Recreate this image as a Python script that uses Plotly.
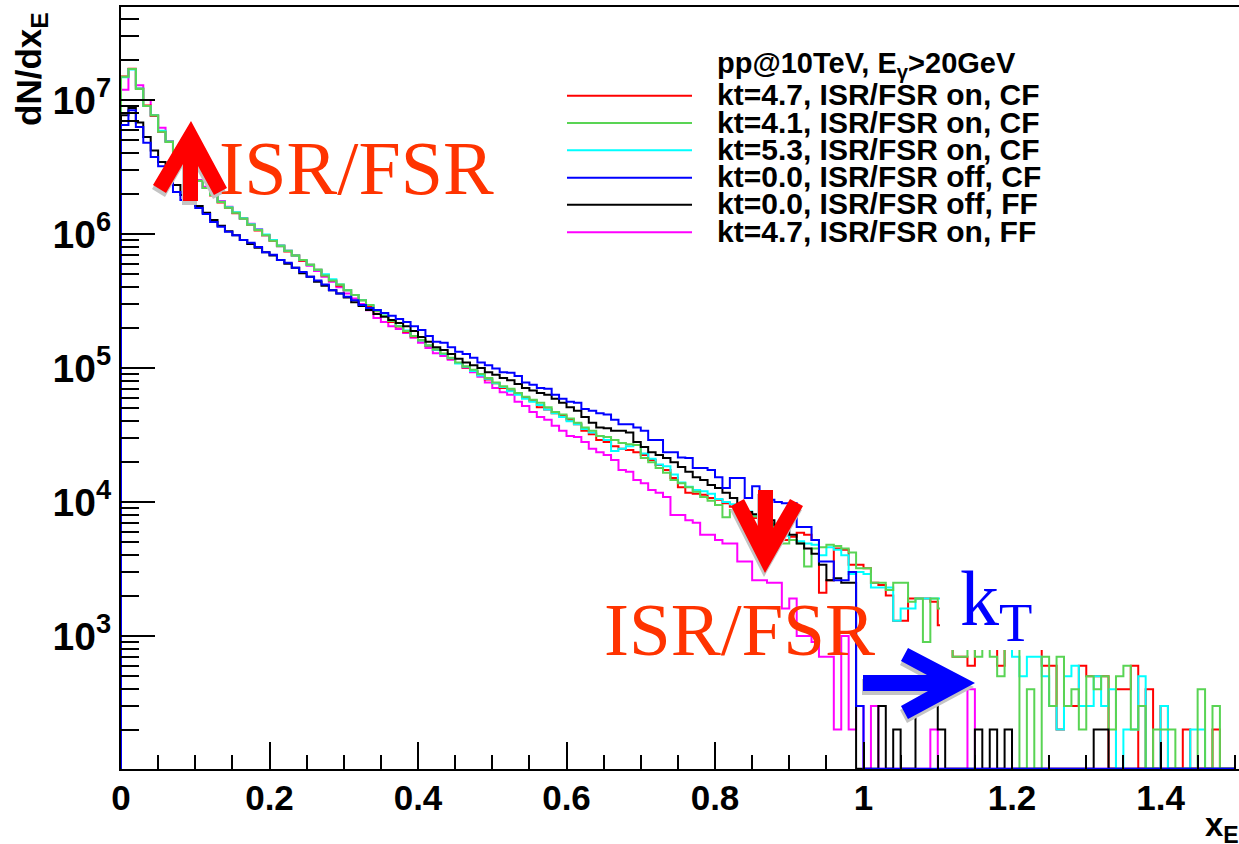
import numpy as np
import plotly.graph_objects as go

# ---------------- data (dN/dx_E per bin, bins of 0.01 from 0 to 1.5) ----------------
BIN_EDGES = np.round(np.linspace(0.0, 1.5, 151), 4)

kt47_on_cf = [
    1.50e7, 1.71e7, 1.22e7, 9.1e6, 7.6e6, 5.8e6, 4.9e6, 4.0e6, 3.4e6, 2.9e6,
    2.5e6, 2.2e6, 1.94e6, 1.72e6, 1.57e6, 1.43e6, 1.31e6, 1.17e6, 1.06e6, 9.8e5,
    8.9e5, 8.2e5, 7.4e5, 6.9e5, 6.3e5, 5.9e5, 5.4e5, 4.9e5, 4.5e5, 4.1e5,
    3.8e5, 3.5e5, 3.2e5, 2.9e5, 2.65e5, 2.44e5, 2.2e5, 2.04e5, 1.86e5, 1.72e5,
    1.6e5, 1.46e5, 1.36e5, 1.27e5, 1.17e5, 1.09e5, 1.01e5, 9.5e4, 8.9e4, 8.2e4,
    7.7e4, 7.1e4, 6.8e4, 6.4e4, 6.0e4, 5.7e4, 5.1e4, 4.9e4, 4.6e4, 4.4e4,
    4.1e4, 3.8e4, 3.4e4, 3.2e4, 2.9e4, 2.8e4, 2.6e4, 2.5e4, 2.44e4, 2.35e4,
    2.24e4, 2.06e4, 1.89e4, 1.73e4, 1.51e4, 1.29e4, 1.17e4, 1.15e4, 1.13e4, 1.07e4,
    1.04e4, 9.8e3, 9.2e3, 8.7e3, 8.0e3, 7.6e3, 7.0e3, 6.5e3, 6.0e3, 5.2e3,
    5.5e3, 5.9e3, 5.7e3, 5.2e3, 2.1e3, 2.6e3, 4.5e3, 4.4e3, 3.4e3, 3.4e3,
    3.2e3, 2.5e3, 2.4e3, 2.0e3, 1.3e3, 1.3e3, 1.9e3, 1.9e3, 1.9e3, 1.8e3,
    1.2e3, 800, 700, 700, 600, 900, 800, 1000, 600, 800,
    800, 800, 800, 800, 600, 600, 200, 300, 300, 600,
    500, 500, 500, 0, 400, 400, 600, 0, 400, 0,
    300, 0, 0, 200, 0, 0, 0, 200, 0, 0,
]

kt41_on_cf = [
    1.49e7, 1.70e7, 1.21e7, 9.0e6, 7.7e6, 5.8e6, 4.85e6, 4.0e6, 3.39e6, 2.9e6,
    2.49e6, 2.2e6, 1.95e6, 1.73e6, 1.57e6, 1.44e6, 1.30e6, 1.17e6, 1.07e6, 9.8e5,
    8.9e5, 8.1e5, 7.5e5, 6.9e5, 6.4e5, 5.9e5, 5.4e5, 4.9e5, 4.5e5, 4.2e5,
    3.8e5, 3.5e5, 3.2e5, 2.95e5, 2.66e5, 2.45e5, 2.24e5, 2.05e5, 1.89e5, 1.73e5,
    1.62e5, 1.48e5, 1.38e5, 1.28e5, 1.19e5, 1.10e5, 1.03e5, 9.7e4, 9.0e4, 8.4e4,
    7.8e4, 7.3e4, 7.0e4, 6.5e4, 6.1e4, 5.8e4, 5.5e4, 5.1e4, 4.7e4, 4.5e4,
    4.2e4, 3.9e4, 3.6e4, 3.4e4, 3.1e4, 3.05e4, 2.9e4, 2.75e4, 2.7e4, 2.66e4,
    2.13e4, 1.98e4, 1.79e4, 1.65e4, 1.46e4, 1.38e4, 1.29e4, 1.19e4, 1.09e4, 1.02e4,
    9.5e3, 7.7e3, 8.7e3, 8.6e3, 8.3e3, 7.8e3, 7.3e3, 6.9e3, 5.9e3, 4.9e3,
    5.2e3, 4.9e3, 3.3e3, 4.5e3, 4.6e3, 4.8e3, 4.7e3, 4.5e3, 4.2e3, 3.2e3,
    3.2e3, 2.5e3, 2.5e3, 2.2e3, 2.5e3, 2.5e3, 1.8e3, 1.9e3, 900, 1.9e3,
    1.6e3, 1000, 700, 700, 800, 700, 900, 700, 500, 900,
    800, 0, 400, 0, 700, 300, 700, 300, 400, 200,
    500, 400, 500, 200, 500, 600, 200, 300, 0, 200,
    200, 200, 0, 0, 0, 400, 0, 300, 0, 0,
]

kt53_on_cf = [
    1.48e7, 1.69e7, 1.22e7, 9.0e6, 7.7e6, 5.9e6, 4.9e6, 4.0e6, 3.4e6, 2.9e6,
    2.5e6, 2.2e6, 1.96e6, 1.74e6, 1.58e6, 1.45e6, 1.31e6, 1.18e6, 1.08e6, 9.9e5,
    9.0e5, 8.2e5, 7.5e5, 6.9e5, 6.4e5, 5.9e5, 5.4e5, 5.0e5, 4.6e5, 4.2e5,
    3.8e5, 3.5e5, 3.2e5, 2.95e5, 2.7e5, 2.46e5, 2.25e5, 2.06e5, 1.9e5, 1.73e5,
    1.6e5, 1.47e5, 1.37e5, 1.27e5, 1.18e5, 1.08e5, 1.02e5, 9.5e4, 8.8e4, 8.3e4,
    7.7e4, 7.2e4, 6.7e4, 6.3e4, 5.9e4, 5.6e4, 5.3e4, 4.9e4, 4.6e4, 4.3e4,
    4.0e4, 3.8e4, 3.5e4, 3.3e4, 3.1e4, 2.9e4, 2.4e4, 2.5e4, 2.6e4, 2.66e4,
    2.3e4, 2.1e4, 1.9e4, 1.85e4, 1.6e4, 1.4e4, 1.3e4, 1.23e4, 1.2e4, 1.15e4,
    1.05e4, 1.0e4, 9.6e3, 9.0e3, 8.5e3, 8.0e3, 7.4e3, 6.9e3, 6.5e3, 5.6e3,
    5.2e3, 5.1e3, 4.9e3, 4.8e3, 4.0e3, 4.6e3, 4.4e3, 4.0e3, 2.9e3, 3.0e3,
    2.9e3, 2.3e3, 2.3e3, 2.3e3, 1.3e3, 1.6e3, 1.6e3, 1.9e3, 1.9e3, 1.9e3,
    1.9e3, 1000, 900, 800, 900, 800, 800, 900, 800, 800,
    700, 500, 700, 700, 500, 300, 200, 500, 600, 300,
    300, 500, 300, 400, 0, 200, 200, 500, 0, 0,
    300, 0, 0, 0, 200, 200, 0, 0, 0, 0,
]

kt00_off_cf = [
    6.5e6, 8.4e6, 6.3e6, 4.8e6, 3.75e6, 3.2e6, 2.4e6, 2.06e6, 1.79e6, 1.7e6,
    1.56e6, 1.41e6, 1.23e6, 1.13e6, 1.04e6, 9.8e5, 9.0e5, 8.6e5, 8.0e5, 7.3e5,
    7.0e5, 6.4e5, 6.1e5, 5.6e5, 5.2e5, 4.8e5, 4.5e5, 4.2e5, 3.8e5, 3.6e5,
    3.4e5, 3.2e5, 2.95e5, 2.8e5, 2.71e5, 2.57e5, 2.45e5, 2.32e5, 2.2e5, 2.05e5,
    1.92e5, 1.73e5, 1.57e5, 1.54e5, 1.43e5, 1.32e5, 1.27e5, 1.19e5, 1.1e5, 1.05e5,
    9.9e4, 9.3e4, 9.2e4, 8.7e4, 7.8e4, 7.5e4, 7.1e4, 7.0e4, 6.3e4, 5.9e4,
    5.6e4, 5.5e4, 4.95e4, 4.8e4, 4.6e4, 4.5e4, 4.1e4, 3.8e4, 3.8e4, 3.6e4,
    3.4e4, 2.9e4, 2.9e4, 2.35e4, 2.35e4, 2.15e4, 2.13e4, 1.79e4, 1.79e4, 1.73e4,
    1.53e4, 1.27e4, 1.51e4, 1.51e4, 1.07e4, 1.31e4, 1.04e4, 1.04e4, 1.0e4, 9.8e3,
    9.8e3, 6.5e3, 6.5e3, 5.2e3, 3.6e3, 3.6e3, 2.6e3, 2.6e3, 3.0e3, 300,
    0, 0, 0, 0, 0, 0, 0, 0, 0, 0,
    0, 0, 0, 0, 0, 0, 0, 0, 0, 0,
    0, 0, 0, 0, 0, 0, 0, 0, 0, 0,
    0, 0, 0, 0, 0, 0, 0, 0, 0, 0,
    0, 0, 0, 0, 0, 0, 0, 0, 0, 0,
]

kt00_off_ff = [
    7.7e6, 8.7e6, 6.8e6, 5.3e6, 4.2e6, 3.45e6, 2.9e6, 2.32e6, 1.95e6, 1.76e6,
    1.62e6, 1.44e6, 1.27e6, 1.15e6, 1.05e6, 9.8e5, 9.0e5, 8.4e5, 7.9e5, 7.3e5,
    6.9e5, 6.4e5, 6.0e5, 5.6e5, 5.1e5, 4.8e5, 4.4e5, 4.1e5, 3.8e5, 3.6e5,
    3.35e5, 3.1e5, 2.9e5, 2.71e5, 2.53e5, 2.41e5, 2.28e5, 2.17e5, 2.05e5, 1.89e5,
    1.7e5, 1.57e5, 1.43e5, 1.36e5, 1.27e5, 1.17e5, 1.1e5, 1.05e5, 1.0e5, 9.3e4,
    8.9e4, 8.4e4, 8.1e4, 7.6e4, 7.1e4, 6.8e4, 6.5e4, 6.3e4, 5.9e4, 5.5e4,
    5.1e4, 4.8e4, 4.3e4, 3.9e4, 3.6e4, 3.55e4, 3.4e4, 3.4e4, 3.3e4, 2.8e4,
    2.57e4, 2.35e4, 2.24e4, 2.13e4, 1.98e4, 1.82e4, 1.68e4, 1.53e4, 1.46e4, 1.34e4,
    1.27e4, 1.17e4, 1.07e4, 9.5e3, 8.4e3, 8.1e3, 7.7e3, 7.3e3, 6.7e3, 6.5e3,
    5.7e3, 4.9e3, 4.5e3, 4.1e3, 3.4e3, 2.6e3, 2.7e3, 2.5e3, 2.5e3, 0,
    0, 0, 300, 0, 200, 0, 0, 300, 300, 300,
    200, 0, 0, 0, 0, 200, 0, 200, 0, 200,
    0, 0, 0, 0, 0, 0, 0, 0, 0, 0,
    0, 200, 200, 0, 0, 0, 0, 0, 0, 0,
    0, 0, 0, 0, 0, 0, 0, 0, 0, 0,
]

kt47_on_ff = [
    1.19e7, 1.70e7, 1.29e7, 1.0e7, 7.7e6, 6.2e6, 4.9e6, 4.2e6, 3.56e6, 3.0e6,
    2.53e6, 2.25e6, 1.98e6, 1.76e6, 1.6e6, 1.44e6, 1.3e6, 1.19e6, 1.09e6, 9.8e5,
    9.0e5, 8.1e5, 7.5e5, 6.9e5, 6.3e5, 5.8e5, 5.3e5, 4.8e5, 4.4e5, 4.0e5,
    3.6e5, 3.3e5, 3.0e5, 2.7e5, 2.36e5, 2.2e5, 2.05e5, 1.95e5, 1.82e5, 1.68e5,
    1.54e5, 1.41e5, 1.29e5, 1.23e5, 1.15e5, 1.09e5, 1.0e5, 9.3e4, 8.6e4, 7.8e4,
    7.1e4, 6.6e4, 6.3e4, 5.6e4, 5.2e4, 4.7e4, 4.3e4, 4.1e4, 3.7e4, 3.4e4,
    3.1e4, 3.05e4, 2.8e4, 2.5e4, 2.35e4, 2.24e4, 2.06e4, 1.73e4, 1.68e4, 1.46e4,
    1.38e4, 1.23e4, 1.17e4, 1.09e4, 8.0e3, 8.0e3, 7.3e3, 7.0e3, 5.7e3, 5.7e3,
    5.2e3, 4.9e3, 4.9e3, 3.6e3, 3.6e3, 2.6e3, 2.6e3, 2.5e3, 2.5e3, 1.6e3,
    1.9e3, 1000, 1000, 900, 700, 700, 200, 1000, 200, 300,
    0, 300, 0, 0, 0, 0, 0, 0, 0, 200,
    0, 0, 0, 0, 400, 0, 0, 0, 0, 0,
    0, 0, 0, 0, 0, 0, 0, 0, 0, 0,
    0, 0, 0, 0, 0, 0, 0, 0, 0, 0,
    0, 0, 0, 0, 0, 0, 0, 0, 0, 0,
]

series_labels = [
    "kt=4.7, ISR/FSR on, CF",
    "kt=4.1, ISR/FSR on, CF",
    "kt=5.3, ISR/FSR on, CF",
    "kt=0.0, ISR/FSR off, CF",
    "kt=0.0, ISR/FSR off, FF",
    "kt=4.7, ISR/FSR on, FF",
]
series_values = [kt47_on_cf, kt41_on_cf, kt53_on_cf, kt00_off_cf, kt00_off_ff, kt47_on_ff]
series_colors = ["#ff0000", "#59d454", "#00ffff", "#0000ff", "#000000", "#ff00ff"]
draw_order = [5, 0, 2, 1, 4, 3]

x_tick_vals = [0, 0.2, 0.4, 0.6, 0.8, 1.0, 1.2, 1.4]
y_tick_vals = [1e3, 1e4, 1e5, 1e6, 1e7]
y_tick_text = ["10<sup>3</sup>", "10<sup>4</sup>", "10<sup>5</sup>", "10<sup>6</sup>", "10<sup>7</sup>"]
header_text = "pp@10TeV, E<sub>γ</sub>&gt;20GeV"

# ---------------- layout geometry ----------------
W, H = 1239, 844
L, R, T, B = 121, 1239, 7, 769
Y_LOG_RANGE = [2.007, 7.694]
X_RANGE = [0.0, 1.5057]
FLOOR = 10 ** 2.009

SANS = "Liberation Sans, Arial, Helvetica, sans-serif"
SERIF = "Liberation Serif, Times New Roman, serif"


def px(x):
    return (x - L) / (R - L)


def py(y):
    return (B - y) / (B - T)


def poly_path(pts, dx=0.0, dy=0.0):
    return "M " + " L ".join(f"{px(x + dx):.5f},{py(y + dy):.5f}" for x, y in pts) + " Z"


fig = go.Figure()

for i in draw_order:
    vals = series_values[i]
    xs = [BIN_EDGES[0]] + list(BIN_EDGES[:-1]) + [BIN_EDGES[-1]]
    ys = [FLOOR] + [v if v > 0 else FLOOR for v in vals] + [FLOOR]
    fig.add_trace(go.Scatter(
        x=xs, y=ys, mode="lines", line=dict(color=series_colors[i], width=2, shape="hv"),
        name=series_labels[i], showlegend=False, hoverinfo="skip"))

shapes = []
annotations = []

# white box behind the k_T label
shapes.append(dict(type="rect", xref="paper", yref="paper", x0=px(940), x1=px(1045),
                   y0=py(650), y1=py(555), fillcolor="white", line=dict(width=0), layer="above"))

# arrows (with grey shadows)
arrow_up = [(191, 121), (227, 188), (214, 195), (198, 166), (198, 201), (183, 201),
            (183, 164), (166, 193), (153, 185)]
arrow_down = [(765, 573), (731, 506), (744, 499), (758, 526), (758, 490), (773, 490),
              (773, 528), (790, 499), (803, 506)]
arrow_right = [(975, 683), (908, 648), (901, 661), (927, 675), (863, 675), (863, 691),
               (928, 691), (901, 706), (908, 719)]
for pts, col in [(arrow_up, "#ff0000"), (arrow_down, "#ff0000"), (arrow_right, "#0000ff")]:
    shapes.append(dict(type="path", xref="paper", yref="paper", path=poly_path(pts, -1, 4),
                       fillcolor="#c4c4c4", line=dict(width=0, color="rgba(0,0,0,0)"), layer="above"))
    shapes.append(dict(type="path", xref="paper", yref="paper", path=poly_path(pts),
                       fillcolor=col, line=dict(width=0, color="rgba(0,0,0,0)"), layer="above"))

# legend
legend_rows_y = [95.7, 123.0, 150.3, 177.7, 204.7, 232.3]
for i, yy in enumerate(legend_rows_y):
    shapes.append(dict(type="line", xref="paper", yref="paper", x0=px(567), x1=px(692),
                       y0=py(yy), y1=py(yy), line=dict(color=series_colors[i], width=2)))
    annotations.append(dict(xref="paper", yref="paper", x=px(715), y=py(yy - 1),
                            xanchor="left", yanchor="middle", showarrow=False,
                            text=series_labels[i],
                            font=dict(family=SANS, size=30, color="black", weight="bold")))
annotations.append(dict(xref="paper", yref="paper", x=px(715), y=py(65), xanchor="left",
                        yanchor="middle", showarrow=False, text=header_text,
                        font=dict(family=SANS, size=29, color="black", weight="bold")))

# big labels
annotations.append(dict(xref="paper", yref="paper", x=px(217), y=py(124), xanchor="left",
                        yanchor="top", showarrow=False, text="ISR/FSR",
                        font=dict(family=SERIF, size=76, color="#ff3300")))
annotations.append(dict(xref="paper", yref="paper", x=px(602), y=py(586), xanchor="left",
                        yanchor="top", showarrow=False, text="ISR/FSR",
                        font=dict(family=SERIF, size=75, color="#ff3300")))
annotations.append(dict(xref="paper", yref="paper", x=px(958), y=py(553), xanchor="left",
                        yanchor="top", showarrow=False, text="k<sub>T</sub>",
                        font=dict(family=SERIF, size=78, color="#0000ff")))

# axis titles
annotations.append(dict(xref="paper", yref="paper", x=px(31), y=py(10), xanchor="center",
                        yanchor="top", showarrow=False, text="dN/dx<sub>E</sub>", textangle=-90,
                        font=dict(family=SANS, size=35, color="black", weight="bold")))
annotations.append(dict(xref="paper", yref="paper", x=px(1203), y=py(804), xanchor="left",
                        yanchor="top", showarrow=False, text="x<sub>E</sub>",
                        font=dict(family=SANS, size=33, color="black", weight="bold")))

minor_y = [k * 10 ** n for n in range(2, 8) for k in range(2, 10)]

fig.update_layout(
    width=W, height=H,
    margin=dict(l=L, r=W - R, t=T, b=H - B, autoexpand=False),
    paper_bgcolor="white", plot_bgcolor="white",
    showlegend=False,
    shapes=shapes, annotations=annotations,
    xaxis=dict(range=X_RANGE, showgrid=False, zeroline=False, showline=True, automargin=False,
               linecolor="black", linewidth=2, mirror=True,
               tickmode="array", tickvals=x_tick_vals,
               ticks="inside", ticklen=27, tickwidth=1.5, tickcolor="black",
               minor=dict(ticks="inside", ticklen=14, tickwidth=1.5, tickcolor="black",
                          dtick=0.05, tick0=0),
               tickfont=dict(family=SANS, size=35, color="black", weight="bold"),
               ticklabelstandoff=-3),
    yaxis=dict(type="log", range=Y_LOG_RANGE, showgrid=False, zeroline=False, showline=True,
               automargin=False, linecolor="black", linewidth=2,
               tickmode="array", tickvals=y_tick_vals, ticktext=y_tick_text,
               ticks="inside", ticklen=34, tickwidth=1.5, tickcolor="black",
               minor=dict(ticks="inside", ticklen=18, tickwidth=1.5, tickcolor="black",
                          tickvals=minor_y),
               tickfont=dict(family=SANS, size=39, color="black", weight="bold"),
               ticklabelstandoff=0),
)

fig.write_html("out.html")
